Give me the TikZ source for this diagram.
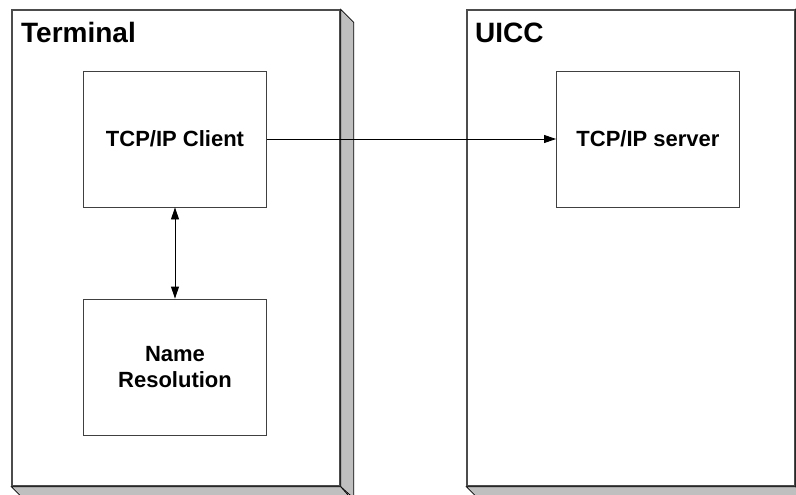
\documentclass[tikz,border=0pt]{standalone}
\usepackage{fontspec}
\setmainfont{Liberation Sans}
\usetikzlibrary{arrows.meta}
\newcommand{\bigsz}      {\bfseries\fontsize{28}{32}\selectfont}
\newcommand{\midsz}      {\bfseries\fontsize{22}{26.5}\selectfont}

\begin{document}
\begin{tikzpicture}[x=1pt,y=-1pt,>={Triangle[length=12pt,width=8pt]},
   frame/.style={draw=black!70,line width=1.4pt,inner sep=0pt,
      minimum width=328pt,minimum height=476pt},
   unit/.style={draw=black!75,line width=0.9pt,inner sep=0pt,align=center,
      minimum width=183pt,minimum height=136pt,font=\midsz},
   side/.style={fill=black!25,draw=black,line width=0.8pt}]
   \useasboundingbox (0,0) rectangle (796,495);
   \clip (0,0) rectangle (796,495);
   % the two big blocks
   \node[frame] (terminal) at (176,248) {};
   \node[frame] (uicc)     at (631,248) {};
   \filldraw[side] (terminal.north east) -- ++(13,13) -- ++(0,476) -- (terminal.south east) -- cycle;
   \filldraw[side] (terminal.south west) -- ++(13,13) -- ++(328,0) -- (terminal.south east) -- cycle;
   \filldraw[side] (uicc.north east) -- ++(13,13) -- ++(0,476) -- (uicc.south east) -- cycle;
   \filldraw[side] (uicc.south west) -- ++(13,13) -- ++(328,0) -- (uicc.south east) -- cycle;
   \node[anchor=base west,inner sep=0pt,font=\bigsz] (termlbl) at (21,43) {Terminal};
   \node[anchor=base west,inner sep=0pt,font=\bigsz] (uicclbl) at (475,43) {UICC};
   % inner blocks
   \node[unit] (client)   at (175,139) {TCP/IP Client};
   \node[unit] (resolver) at (175,367) {Name\\Resolution};
   \node[unit] (server)   at (648,139) {TCP/IP server};
   \draw[line width=0.9pt,->] (client.east) -- (server.west);
   \draw[line width=0.9pt,<->] (client.south) -- (resolver.north);
\end{tikzpicture}
\end{document}
